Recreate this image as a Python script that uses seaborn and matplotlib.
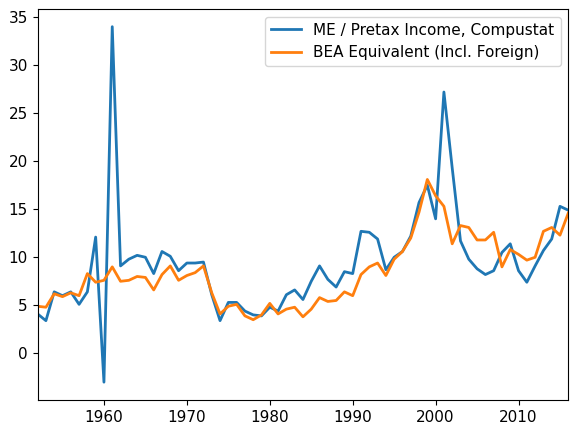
import numpy as np
import pandas as pd
import matplotlib
matplotlib.use("Agg")
import matplotlib.pyplot as plt
import seaborn as sns

years = list(range(1952, 2017))

compustat = [
    4.1, 3.4, 6.4, 6.0, 6.4, 5.1, 6.4, 12.1, -3.0, 34.0,
    9.1, 9.8, 10.2, 10.0, 8.3, 10.6, 10.1, 8.6, 9.4, 9.4,
    9.5, 6.1, 3.4, 5.3, 5.3, 4.4, 4.0, 3.9, 4.8, 4.4,
    6.1, 6.6, 5.6, 7.5, 9.1, 7.7, 6.9, 8.5, 8.3, 12.7,
    12.6, 11.9, 8.7, 10.0, 10.6, 12.2, 15.7, 17.5, 14.0, 27.2,
    19.3, 11.7, 9.8, 8.8, 8.2, 8.6, 10.5, 11.4, 8.6, 7.4,
    9.1, 10.7, 11.9, 15.3, 14.9,
]

bea = [
    4.9, 4.8, 6.2, 5.9, 6.3, 6.0, 8.3, 7.4, 7.6, 9.0,
    7.5, 7.6, 8.0, 7.9, 6.6, 8.2, 9.1, 7.6, 8.1, 8.4,
    9.1, 6.3, 4.1, 4.9, 5.1, 3.9, 3.5, 4.0, 5.2, 4.1,
    4.6, 4.8, 3.8, 4.6, 5.8, 5.4, 5.5, 6.4, 6.0, 8.2,
    9.0, 9.4, 8.1, 9.8, 10.6, 12.0, 14.7, 18.1, 16.4, 15.3,
    11.4, 13.3, 13.1, 11.8, 11.8, 12.6, 9.0, 10.8, 10.3, 9.7,
    10.0, 12.7, 13.1, 12.3, 14.6,
]

labels = ["ME / Pretax Income, Compustat", "BEA Equivalent (Incl. Foreign)"]

df = pd.DataFrame({"year": years, labels[0]: compustat, labels[1]: bea})
long = df.melt(id_vars="year", var_name="series", value_name="value")

plt.rcParams["font.size"] = 11
fig, ax = plt.subplots(figsize=(5.7, 4.25), dpi=100)
fig.subplots_adjust(left=0.066, right=0.997, top=0.979, bottom=0.059)

sns.lineplot(data=long, x="year", y="value", hue="series", ax=ax,
             palette=["#1f77b4", "#ff7f0e"], linewidth=2)

ax.set_xlim(1952, 2016)
ax.set_xlabel("")
ax.set_ylabel("")
ax.set_yticks([0, 5, 10, 15, 20, 25, 30, 35])
ax.legend(title=None, loc="upper right")

fig.savefig("out.png", dpi=100)
